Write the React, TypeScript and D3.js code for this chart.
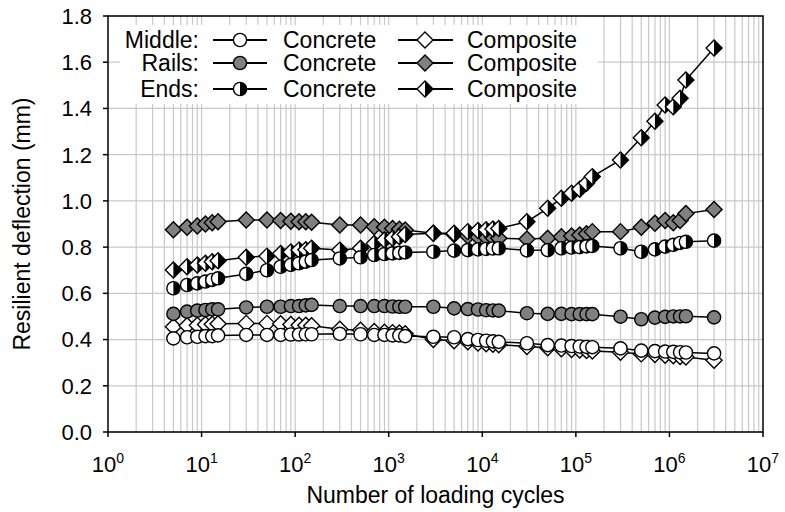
import React from "react";
import * as d3 from "d3";

const cycles = [5, 7, 9, 11, 13, 15, 30, 50, 70, 90, 110, 130, 150, 300, 500, 700, 900, 1100, 1300, 1500, 3000, 5000, 7000, 9000, 11000, 13000, 15000, 30000, 50000, 70000, 90000, 110000, 130000, 150000, 300000, 500000, 700000, 900000, 1100000, 1300000, 1500000, 3000000];

const middleConcrete = [0.405, 0.41, 0.412, 0.415, 0.415, 0.418, 0.42, 0.42, 0.42, 0.422, 0.422, 0.423, 0.423, 0.425, 0.423, 0.42, 0.42, 0.418, 0.418, 0.415, 0.412, 0.41, 0.402, 0.398, 0.395, 0.392, 0.39, 0.384, 0.376, 0.374, 0.372, 0.37, 0.368, 0.367, 0.362, 0.352, 0.35, 0.348, 0.347, 0.345, 0.344, 0.34];
const middleComposite = [0.455, 0.46, 0.462, 0.465, 0.466, 0.468, 0.47, 0.47, 0.468, 0.465, 0.462, 0.462, 0.46, 0.445, 0.44, 0.435, 0.432, 0.43, 0.428, 0.425, 0.4, 0.395, 0.39, 0.385, 0.382, 0.38, 0.378, 0.37, 0.365, 0.36, 0.357, 0.355, 0.353, 0.35, 0.345, 0.338, 0.335, 0.332, 0.33, 0.327, 0.325, 0.31];
const railsConcrete = [0.511, 0.521, 0.525, 0.528, 0.531, 0.531, 0.539, 0.542, 0.542, 0.545, 0.545, 0.548, 0.55, 0.545, 0.545, 0.545, 0.545, 0.543, 0.542, 0.542, 0.542, 0.535, 0.532, 0.53, 0.527, 0.526, 0.525, 0.514, 0.511, 0.511, 0.51, 0.51, 0.51, 0.51, 0.499, 0.488, 0.495, 0.498, 0.5, 0.5, 0.501, 0.496];
const railsComposite = [0.875, 0.886, 0.891, 0.9, 0.905, 0.91, 0.917, 0.917, 0.915, 0.912, 0.91, 0.91, 0.908, 0.896, 0.896, 0.888, 0.886, 0.881, 0.877, 0.874, 0.86, 0.855, 0.848, 0.845, 0.843, 0.84, 0.838, 0.835, 0.838, 0.845, 0.848, 0.852, 0.858, 0.867, 0.867, 0.886, 0.903, 0.915, 0.905, 0.915, 0.945, 0.963];
const endsConcrete = [0.622, 0.636, 0.643, 0.651, 0.658, 0.665, 0.684, 0.7, 0.715, 0.723, 0.73, 0.737, 0.744, 0.751, 0.756, 0.766, 0.77, 0.773, 0.775, 0.777, 0.78, 0.785, 0.787, 0.79, 0.792, 0.794, 0.795, 0.786, 0.787, 0.795, 0.798, 0.8, 0.803, 0.805, 0.795, 0.78, 0.79, 0.802, 0.81, 0.818, 0.823, 0.828];
const endsComposite = [0.701, 0.715, 0.723, 0.73, 0.737, 0.741, 0.756, 0.761, 0.772, 0.779, 0.787, 0.789, 0.795, 0.787, 0.795, 0.816, 0.831, 0.838, 0.845, 0.855, 0.86, 0.86, 0.867, 0.872, 0.875, 0.878, 0.881, 0.91, 0.968, 1.011, 1.033, 1.05, 1.076, 1.105, 1.177, 1.273, 1.345, 1.415, 1.407, 1.444, 1.523, 1.662];

const yTicks = [0, 0.2, 0.4, 0.6, 0.8, 1.0, 1.2, 1.4, 1.6, 1.8];
const xExponents = [0, 1, 2, 3, 4, 5, 6, 7];
const locations = ["Middle:", "Rails:", "Ends:"];
const typeLabels = ["Concrete", "Composite"];

type Fill = "white" | "gray" | "half";
type Shape = "circle" | "diamond";

const seriesList: { values: number[]; shape: Shape; fill: Fill }[] = [
  { values: railsComposite, shape: "diamond", fill: "gray" },
  { values: middleComposite, shape: "diamond", fill: "white" },
  { values: endsComposite, shape: "diamond", fill: "half" },
  { values: railsConcrete, shape: "circle", fill: "gray" },
  { values: middleConcrete, shape: "circle", fill: "white" },
  { values: endsConcrete, shape: "circle", fill: "half" },
];

const W = 785, H = 512;
const M = { left: 108, right: 763, top: 16, bottom: 432 };
const FONT = "'Liberation Sans', Arial, sans-serif";
const GRAY = "#808080";
const R = 6.6;
const D = 8;

function Marker({ x, y, shape, fill }: { x: number; y: number; shape: Shape; fill: Fill }) {
  const sw = 1.4;
  if (shape === "circle") {
    if (fill === "half") {
      return (
        <g>
          <circle cx={x} cy={y} r={R} fill="white" />
          <path d={`M${x},${y - R} A${R},${R} 0 0 1 ${x},${y + R} Z`} fill="black" />
          <circle cx={x} cy={y} r={R} fill="none" stroke="black" strokeWidth={sw} />
        </g>
      );
    }
    return <circle cx={x} cy={y} r={R} fill={fill === "gray" ? GRAY : "white"} stroke="black" strokeWidth={sw} />;
  }
  const pts = `${x},${y - D} ${x + D},${y} ${x},${y + D} ${x - D},${y}`;
  if (fill === "half") {
    return (
      <g>
        <polygon points={pts} fill="white" />
        <polygon points={`${x},${y - D} ${x + D},${y} ${x},${y + D}`} fill="black" />
        <polygon points={pts} fill="none" stroke="black" strokeWidth={sw} strokeLinejoin="miter" />
      </g>
    );
  }
  return <polygon points={pts} fill={fill === "gray" ? GRAY : "white"} stroke="black" strokeWidth={sw} />;
}

export default function App() {
  const x = d3.scaleLog().domain([1, 1e7]).range([M.left, M.right]);
  const y = d3.scaleLinear().domain([0, 1.8]).range([M.bottom, M.top]);

  const minorX: number[] = [];
  for (let k = 0; k < 7; k++) {
    for (let m = 1; m <= 9; m++) {
      const v = m * Math.pow(10, k);
      if (v > 1) minorX.push(v);
    }
  }

  const line = d3
    .line<number>()
    .x((_, i) => x(cycles[i]))
    .y((v) => y(v));

  const legendRows = [
    { label: locations[0], fills: ["white", "white"] as Fill[] },
    { label: locations[1], fills: ["gray", "gray"] as Fill[] },
    { label: locations[2], fills: ["half", "half"] as Fill[] },
  ];
  const rowY = [40, 63, 89];

  return (
    <svg width={W} height={H} style={{ position: "absolute", left: 0, top: 0, background: "white" }} fontFamily={FONT}>
      <rect x={0} y={0} width={W} height={H} fill="white" />
      {/* grid */}
      {minorX.map((v) => (
        <line key={"gx" + v} x1={x(v)} x2={x(v)} y1={M.top} y2={M.bottom} stroke="#c8c8c8" strokeWidth={1.2} />
      ))}
      {yTicks.map((t) => (
        <line key={"gy" + t} x1={M.left} x2={M.right} y1={y(t)} y2={y(t)} stroke="#c8c8c8" strokeWidth={1.2} />
      ))}
      {/* legend background */}
      <rect x={120} y={25} width={478} height={79} fill="white" />
      {/* frame */}
      <rect x={M.left} y={M.top} width={M.right - M.left} height={M.bottom - M.top} fill="none" stroke="black" strokeWidth={1.5} />
      {/* y ticks */}
      {yTicks.map((t) => (
        <g key={"yt" + t}>
          <line x1={M.left - 5} x2={M.left} y1={y(t)} y2={y(t)} stroke="black" strokeWidth={1.5} />
          <text x={92} y={y(t)} dy="0.36em" textAnchor="end" fontSize={22} fill="black">
            {t.toFixed(1)}
          </text>
        </g>
      ))}
      {/* x ticks */}
      {xExponents.map((k) => (
        <g key={"xt" + k}>
          <line x1={x(Math.pow(10, k))} x2={x(Math.pow(10, k))} y1={M.bottom} y2={M.bottom + 5} stroke="black" strokeWidth={1.5} />
          <text x={x(Math.pow(10, k))} y={472} textAnchor="middle" fontSize={22} fill="black">
            10
            <tspan dy={-9} fontSize={14}>
              {k}
            </tspan>
          </text>
        </g>
      ))}
      {/* axis titles */}
      <text x={(M.left + M.right) / 2} y={503} textAnchor="middle" fontSize={23} fill="black">
        Number of loading cycles
      </text>
      <text transform={`translate(30, ${(M.top + M.bottom) / 2}) rotate(-90)`} textAnchor="middle" fontSize={23} fill="black">
        Resilient deflection (mm)
      </text>
      {/* series */}
      {seriesList.map((s, si) => (
        <g key={"s" + si}>
          <path d={line(s.values) || ""} fill="none" stroke="black" strokeWidth={1.5} />
          {s.values.map((v, i) => (
            <Marker key={i} x={x(cycles[i])} y={y(v)} shape={s.shape} fill={s.fill} />
          ))}
        </g>
      ))}
      {/* legend */}
      {legendRows.map((row, ri) => (
        <g key={"lg" + ri}>
          <text x={199} y={rowY[ri]} dy="0.36em" textAnchor="end" fontSize={23} fill="black">
            {row.label}
          </text>
          <line x1={213} x2={267} y1={rowY[ri]} y2={rowY[ri]} stroke="black" strokeWidth={2} />
          <Marker x={240} y={rowY[ri]} shape="circle" fill={row.fills[0]} />
          <text x={283} y={rowY[ri]} dy="0.36em" fontSize={23} fill="black">
            {typeLabels[0]}
          </text>
          <line x1={398} x2={453} y1={rowY[ri]} y2={rowY[ri]} stroke="black" strokeWidth={2} />
          <Marker x={425} y={rowY[ri]} shape="diamond" fill={row.fills[1]} />
          <text x={467} y={rowY[ri]} dy="0.36em" fontSize={23} fill="black">
            {typeLabels[1]}
          </text>
        </g>
      ))}
    </svg>
  );
}
